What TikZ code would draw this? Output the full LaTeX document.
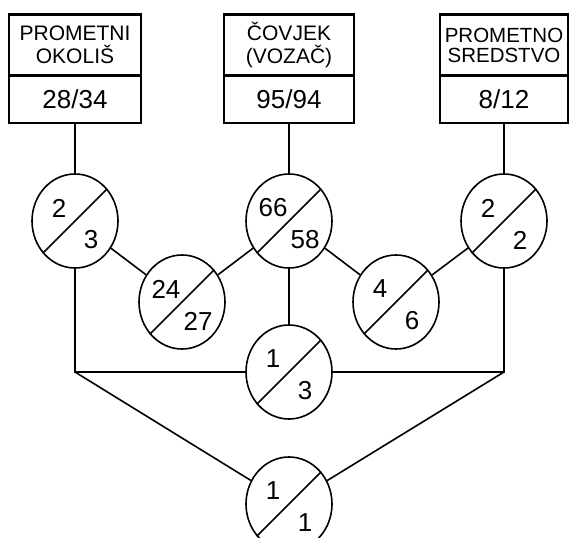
\documentclass[tikz,border=0pt]{standalone}
\usepackage{fontspec}
\setmainfont{Liberation Sans}
\usetikzlibrary{shapes.geometric}
\newcommand\ratiocirc[5]{%
  \node[circ] (#1) at (#2,#3) {};
  \draw[link] (#1.45) -- (#1.225);
  \node[num] (#1t) at ([shift={(-16,-13)}]#1.center) {#4};
  \node[num] (#1b) at ([shift={(16,19)}]#1.center) {#5};
}
\begin{document}
\begin{tikzpicture}[x=1pt,y=-1pt,
  circ/.style={ellipse,draw,line width=1.6pt,minimum width=86pt,minimum height=94pt,inner sep=0pt},
  num/.style={inner sep=0pt,font=\fontsize{26}{26}\selectfont},
  head/.style={draw,line width=2.4pt,minimum height=61pt,inner sep=0pt,align=center,font=\fontsize{21}{23}\selectfont},
  val/.style={draw,line width=2.4pt,minimum height=47.5pt,inner sep=0pt,font=\fontsize{26}{26}\selectfont},
  link/.style={line width=1.6pt}]
\useasboundingbox (0,0) rectangle (569,537);

% boxes
\node[head,minimum width=132pt] (h1) at (75,45) {PROMETNI\\OKOLIŠ};
\node[val,minimum width=132pt] (v1) at (75,99.25) {28/34};
\node[head,minimum width=130pt] (h2) at (289,45) {ČOVJEK\\(VOZAČ)};
\node[val,minimum width=130pt] (v2) at (289,99.25) {95/94};
\node[head,minimum width=128pt,font=\fontsize{20.5}{20}\selectfont] (h3) at (504,45) {PROMETNO\\SREDSTVO};
\node[val,minimum width=128pt] (v3) at (504,99.25) {8/12};

% circles
\ratiocirc{c1}{75}{221}{2}{3}
\ratiocirc{c2}{289}{221}{66}{58}
\ratiocirc{c3}{504}{221}{2}{2}
\ratiocirc{c4}{182}{302}{24}{27}
\ratiocirc{c5}{396}{302}{4}{6}
\ratiocirc{c6}{289}{372}{1}{3}
\ratiocirc{c7}{289}{504}{1}{1}

\coordinate (j1) at (75,372);
\coordinate (j2) at (504,372);

% connectors
\draw[link] (v1) -- (c1);
\draw[link] (v2) -- (c2);
\draw[link] (v3) -- (c3);
\draw[link] (c1) -- (c4);
\draw[link] (c4) -- (c2);
\draw[link] (c2) -- (c5);
\draw[link] (c5) -- (c3);
\draw[link] (c2) -- (c6);
\draw[link] (c1) -- (j1) -- (c6);
\draw[link] (c3) -- (j2) -- (c6);
\draw[link] (j1) -- (c7);
\draw[link] (j2) -- (c7);
\end{tikzpicture}
\end{document}
